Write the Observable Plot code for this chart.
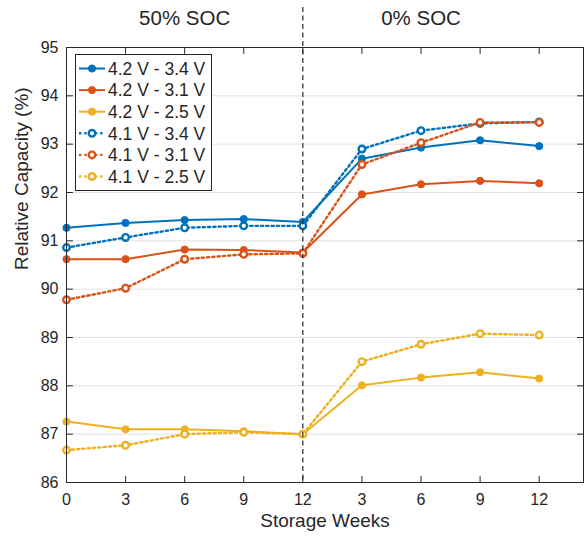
<!DOCTYPE html>
<html>
<head>
<meta charset="utf-8">
<script src="https://cdn.jsdelivr.net/npm/d3@7"></script>
<script src="https://cdn.jsdelivr.net/npm/@observablehq/plot@0.6"></script>
<style>
  body { margin: 0; background: #fff; }
  #wrap { position: relative; width: 584px; height: 539px; }
  #wrap svg { position: absolute; left: 0; top: 0; }
</style>
</head>
<body>
<div id="wrap"></div>
<script>
// ---- data ----
const xLabels = ["0", "3", "6", "9", "12", "3", "6", "9", "12"];
const xPos = [0, 1, 2, 3, 4, 5, 6, 7, 8];
const yTicks = [86, 87, 88, 89, 90, 91, 92, 93, 94, 95];
const phaseTitles = ["50% SOC", "0% SOC"];
const phaseCenters = [2, 6];
const phaseBoundary = [4];

const seriesNames = ["4.2 V - 3.4 V", "4.2 V - 3.1 V", "4.2 V - 2.5 V", "4.1 V - 3.4 V", "4.1 V - 3.1 V", "4.1 V - 2.5 V"];
const s42_34 = [91.27, 91.37, 91.43, 91.45, 91.39, 92.70, 92.93, 93.08, 92.96];
const s42_31 = [90.62, 90.62, 90.82, 90.81, 90.76, 91.96, 92.17, 92.24, 92.19];
const s42_25 = [87.26, 87.10, 87.10, 87.06, 87.00, 88.01, 88.17, 88.28, 88.15];
const s41_34 = [90.86, 91.07, 91.27, 91.31, 91.31, 92.90, 93.28, 93.43, 93.46];
const s41_31 = [89.78, 90.02, 90.62, 90.72, 90.74, 92.58, 93.03, 93.45, 93.45];
const s41_25 = [86.67, 86.77, 87.00, 87.04, 87.00, 88.50, 88.86, 89.08, 89.05];

const colors = ["#0072BD", "#D95319", "#EDB120", "#0072BD", "#D95319", "#EDB120"];
const dotted = [false, false, false, true, true, true];
const allValues = [s42_34, s42_31, s42_25, s41_34, s41_31, s41_25];

const series = seriesNames.map((name, k) => ({
  name, color: colors[k], dotted: dotted[k],
  rows: allValues[k].map((v, i) => ({x: xPos[i], y: v}))
}));

const ink = "#262626";
const font = "Helvetica, Arial, 'Liberation Sans', sans-serif";
const dash = "2.3,3";

const tickShape = {draw(ctx, l) { ctx.moveTo(0, 0); ctx.lineTo(0, -l); }};

const marks = [
  Plot.gridY(yTicks.slice(1, -1), {stroke: "#e2e2e2", strokeOpacity: 1, strokeWidth: 1})
];
for (const s of series) {
  marks.push(Plot.line(s.rows, {x: "x", y: "y", stroke: s.color, strokeWidth: s.dotted ? 2.4 : 2,
    strokeDasharray: s.dotted ? dash : null}));
  marks.push(Plot.dot(s.rows, {x: "x", y: "y", r: s.dotted ? 3.3 : 3.6,
    fill: s.dotted ? "white" : s.color, stroke: s.color, strokeWidth: s.dotted ? 2.4 : 1}));
}
marks.push(
  Plot.ruleX(phaseBoundary, {stroke: ink, strokeWidth: 1.2, strokeDasharray: "5,3.5", insetTop: -40}),
  Plot.frame({stroke: ink, strokeWidth: 1}),
  // inward tick marks on all four sides
  Plot.vector(xPos, {x: d => d, frameAnchor: "bottom", length: 6, rotate: 0, anchor: "start", shape: tickShape, stroke: ink, strokeWidth: 1}),
  Plot.vector(xPos, {x: d => d, frameAnchor: "top", length: 6, rotate: 180, anchor: "start", shape: tickShape, stroke: ink, strokeWidth: 1}),
  Plot.vector(yTicks, {y: d => d, frameAnchor: "left", length: 6, rotate: 90, anchor: "start", shape: tickShape, stroke: ink, strokeWidth: 1}),
  Plot.vector(yTicks, {y: d => d, frameAnchor: "right", length: 6, rotate: -90, anchor: "start", shape: tickShape, stroke: ink, strokeWidth: 1}),
  Plot.axisX(xPos, {anchor: "bottom", tickSize: 0, tickPadding: 11, tickFormat: i => xLabels[i], fontSize: 16, fill: ink, label: null}),
  Plot.axisY(yTicks, {anchor: "left", tickSize: 0, tickPadding: 8, fontSize: 16, fill: ink, label: null}),
  Plot.text(phaseTitles, {x: (d, i) => phaseCenters[i], y: () => 95, dy: -29, fontSize: 20.5, fill: ink, text: d => d}),
  Plot.text(["Storage Weeks"], {frameAnchor: "bottom", dy: 44, fontSize: 19, fill: ink, text: d => d}),
  Plot.text(["Relative Capacity (%)"], {frameAnchor: "left", dx: -45, dy: 5, rotate: -90, fontSize: 19, fill: ink, text: d => d})
);

const chart = Plot.plot({
  width: 584, height: 539,
  marginLeft: 66, marginRight: 1, marginTop: 47, marginBottom: 57,
  style: {fontFamily: font, background: "white"},
  x: {domain: [0, 8.75], axis: null},
  y: {domain: [86, 95], axis: null},
  marks
});
document.getElementById("wrap").appendChild(chart);

// ---- legend (inside axes, top-left) ----
const lg = d3.select("#wrap").append("svg")
  .attr("width", 584).attr("height", 539)
  .style("pointer-events", "none")
  .style("font-family", font);
lg.append("rect").attr("x", 75.5).attr("y", 54.5).attr("width", 136).attr("height", 136)
  .attr("fill", "white").attr("stroke", ink).attr("stroke-width", 1);
series.forEach((s, k) => {
  const cy = 68.5 + k * 21.6;
  lg.append("line").attr("x1", 79).attr("x2", 105).attr("y1", cy).attr("y2", cy)
    .attr("stroke", s.color).attr("stroke-width", s.dotted ? 2.4 : 2)
    .attr("stroke-dasharray", s.dotted ? dash : null);
  lg.append("circle").attr("cx", 92).attr("cy", cy).attr("r", s.dotted ? 3.3 : 3.6)
    .attr("fill", s.dotted ? "white" : s.color).attr("stroke", s.color)
    .attr("stroke-width", s.dotted ? 2.4 : 1);
  lg.append("text").attr("x", 108).attr("y", cy).attr("dy", "0.36em")
    .attr("font-size", 17.5).attr("fill", ink).text(s.name);
});
</script>
</body>
</html>
